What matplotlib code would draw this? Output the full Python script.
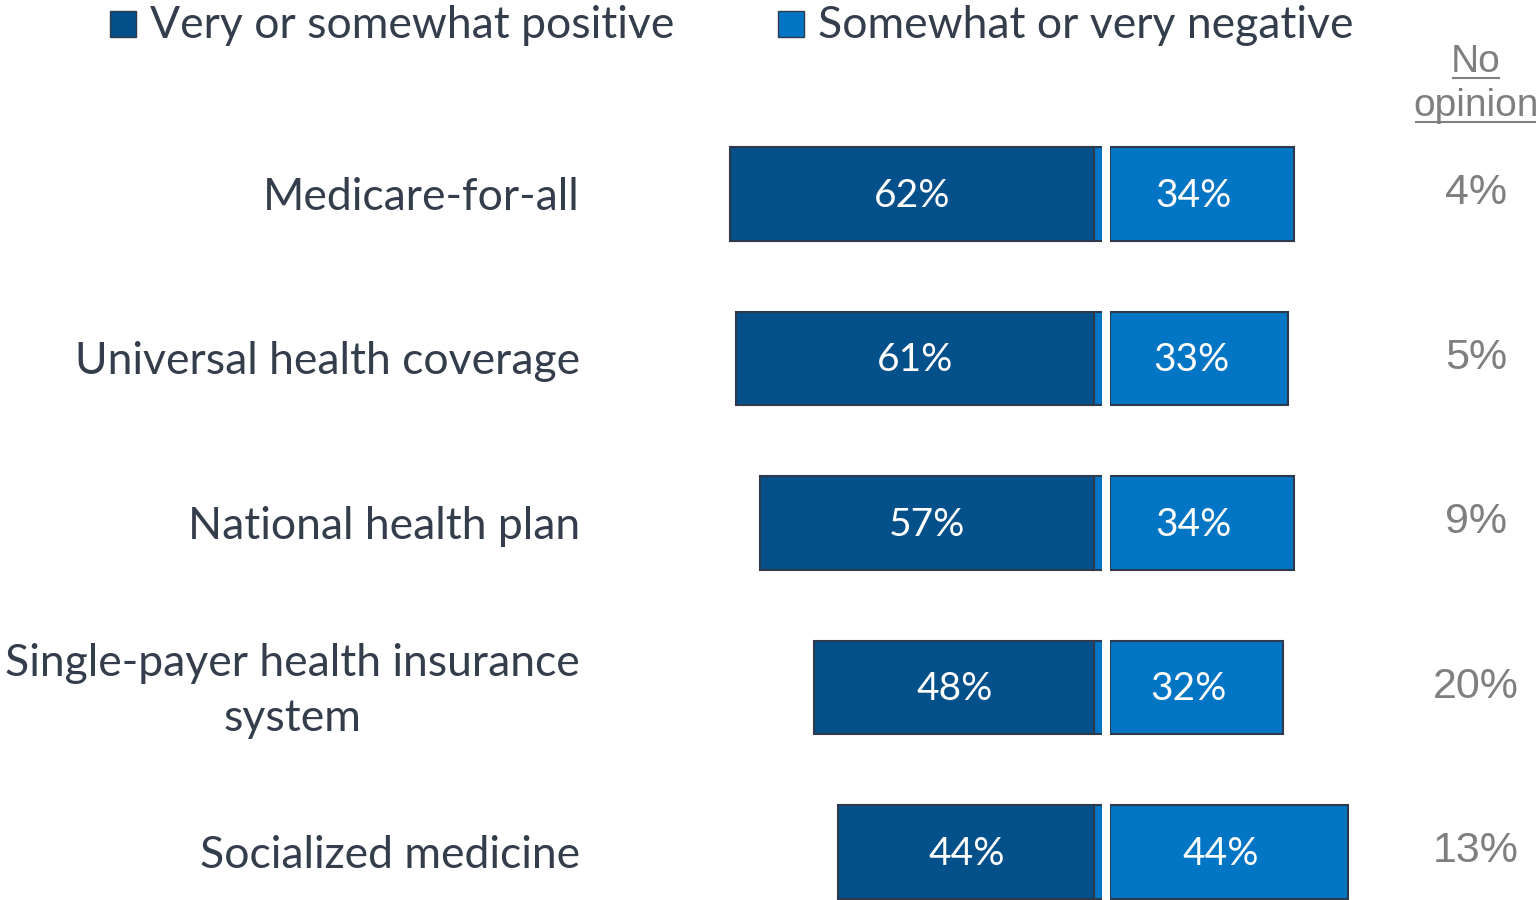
import matplotlib
matplotlib.use("Agg")
import matplotlib.pyplot as plt
from matplotlib.lines import Line2D

# survey results, percent of respondents
categories = ["Medicare-for-all", "Universal health coverage", "National health plan",
              "Single-payer health insurance\nsystem", "Socialized medicine"]
positive = [62, 61, 57, 48, 44]
negative = [34, 33, 34, 32, 44]
no_opinion = [4, 5, 9, 20, 13]

DARK = "#03508A"
LIGHT = "#0275C5"
EDGE = "#2E3A4B"
TEXT = "#333D4B"
GRAY = "#7F7F7F"
FONT = ["Lato", "DejaVu Sans"]

W, H = 1536, 900
fig = plt.figure(figsize=(W / 100, H / 100), dpi=100)

rows = list(range(len(categories)))
# rows sit 164.5 px apart, first row centered 194 px from the top
ylim = ((H - 194) / 164.5, -194 / 164.5)

base = fig.add_axes([0, 0, 1, 1])
base.set_xlim(0, W)
base.set_ylim(*ylim)
base.axis("off")

# positive bars grow leftwards from x=1102 px, 6 px per point
ax_pos = fig.add_axes([700 / W, 0, 402 / W, 1])
ax_pos.set_xlim(402 / 6, 0)
ax_pos.set_ylim(*ylim)
ax_pos.axis("off")

# negative bars grow rightwards from x=1110 px
ax_neg = fig.add_axes([1110 / W, 0, 300 / W, 1])
ax_neg.set_xlim(0, 300 / 5.4)
ax_neg.set_ylim(*ylim)
ax_neg.axis("off")

bh = 0.571
ax_pos.barh(rows, positive, height=bh, color=DARK, edgecolor=EDGE, linewidth=1.5)
ax_pos.barh(rows, [1.35] * len(rows), height=bh - 0.012, color=LIGHT, linewidth=0)
for r in rows:
    ax_pos.plot([1.35, 1.35], [r - bh / 2, r + bh / 2], color=EDGE, lw=1.5)
ax_neg.barh(rows, negative, height=bh, color=LIGHT, edgecolor=EDGE, linewidth=1.5)

for r, p, n in zip(rows, positive, negative):
    ax_pos.text(p / 2 + 0.6, r + 0.01, f"{p}%", ha="center", va="center",
                color="white", fontsize=28, family=FONT)
    ax_neg.text(n / 2 - 1.5, r + 0.01, f"{n}%", ha="center", va="center",
                color="white", fontsize=28, family=FONT)

for r, c in zip(rows, categories):
    base.text(580, r + 0.02, c, ha="right", va="center", color=TEXT, fontsize=32,
              family=FONT, linespacing=1.42, multialignment="center")

for r, v in zip(rows, no_opinion):
    base.text(1476, r - 0.005, f"{v}%", ha="center", va="center", color=GRAY,
              fontsize=31, family="Liberation Sans")

# column header with underlines
for txt, yc, half in [("No", 62, 23), ("opinion", 106, 60)]:
    fig.text(1476 / W, 1 - yc / H, txt, ha="center", va="center", color=GRAY,
             fontsize=28, family="Liberation Sans")
    uy = 1 - (yc + 16) / H
    fig.add_artist(Line2D([(1476 - half) / W, (1476 + half) / W], [uy, uy],
                          color=GRAY, lw=1.5))

# legend
for x0, col, label in [(110, DARK, "Very or somewhat positive"),
                       (778, LIGHT, "Somewhat or very negative")]:
    fig.add_artist(plt.Rectangle((x0 / W, 1 - 37 / H), 26 / W, 26 / H,
                                 facecolor=col, edgecolor=EDGE, lw=1.0))
    fig.text((x0 + 40) / W, 1 - 25 / H, label, ha="left", va="center",
             color=TEXT, fontsize=32, family=FONT)

fig.savefig("out.png", dpi=100)
